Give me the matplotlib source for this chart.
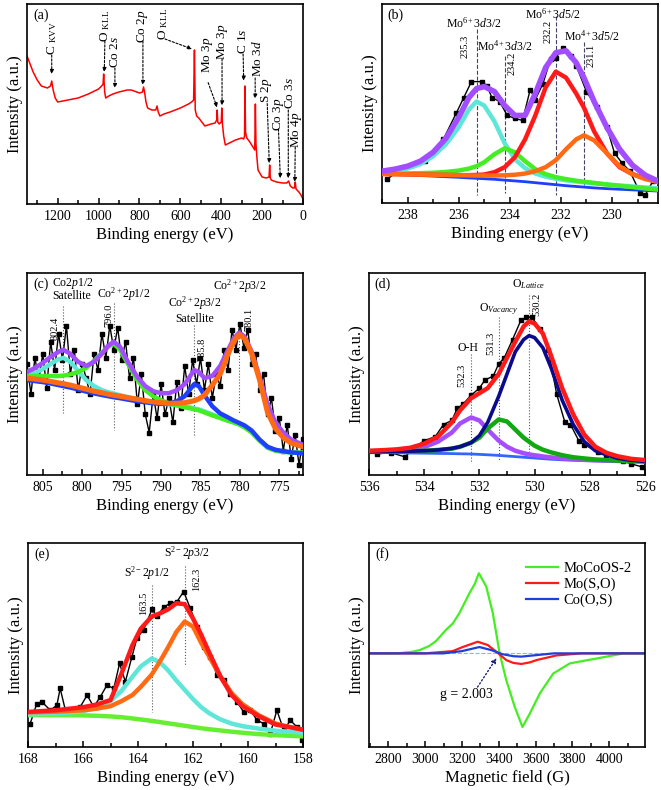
import matplotlib
matplotlib.use('Agg')
import matplotlib.pyplot as plt
from matplotlib.ticker import MultipleLocator

plt.rcParams['font.family'] = ['Liberation Serif', 'DejaVu Serif']
plt.rcParams['mathtext.fontset'] = 'custom'
plt.rcParams['mathtext.rm'] = 'Liberation Serif'
plt.rcParams['mathtext.it'] = 'Liberation Serif:italic'
plt.rcParams['axes.linewidth'] = 1.2

# ---------------- (a) survey ----------------
a_be = [1350, 1335, 1320, 1300, 1280, 1250, 1235, 1229, 1222, 1212, 1200, 1150, 1100, 1050,
        1000, 985, 978, 975, 970, 965, 950, 930, 900, 860, 840, 800, 785, 780, 775, 768, 760,
        740, 720, 714, 708, 700, 680, 650, 600, 560, 545, 535, 531, 527, 520, 510, 480, 450,
        430, 422, 420, 417, 410, 400, 397, 394, 388, 380, 360, 330, 300, 290, 286, 284, 281,
        275, 260, 245, 236, 233, 230, 226, 220, 200, 180, 166, 163, 160, 155, 130, 100, 80,
        70, 62, 50, 42, 38, 34, 20, 10, 0]
a_int = [74, 70, 66, 62, 59, 58, 59, 61.5, 57, 53, 51, 52, 53, 55,
         57.5, 59, 60, 65, 56, 53, 54, 55, 56, 57, 57, 55.5, 56, 58.5, 56, 51, 48,
         47, 47, 49, 46, 44, 45, 46, 48, 50, 51, 52, 77, 47, 44, 43, 39, 40,
         40.5, 42, 47, 41, 40, 41, 48, 40, 34, 29.5, 30.5, 32, 33, 32.5, 34, 59, 36,
         33, 31, 28.5, 27, 50, 30, 24, 17, 13.5, 13, 13.5, 19.5, 13, 12, 11, 10.5, 10.5,
         11.5, 9, 8, 8, 11, 7.5, 6, 4.5, 2.5]
# label, text pos (be, y), arrow start, arrow end
a_labels = [
    (r'C $_{\rm KVV}$', (1229, 83), (1229, 74.5), (1229, 65)),
    (r'O $_{\rm KLL}$', (969, 89), (969, 81.5), (972, 66)),
    (r'Co 2$s$', (920, 76), (920, 68), (920, 58)),
    (r'Co 2$p$', (783, 89), (783, 81.5), (783, 59.5)),
    (r'O $_{\rm KLL}$', (685, 90), (675, 82.5), (543, 77.5)),
    (r'Mo 3$p$', (469, 74.6), (464, 60.7), (420, 48.3)),
    (r'Mo 3$p$', (396, 81), (396, 72.6), (396, 49.3)),
    (r'C 1$s$', (293, 81.6), (293, 75), (290, 61.7)),
    (r'Mo 3$d$', (224, 73), (234, 63), (234, 52.7)),
    (r'S 2$p$', (178, 57), (175, 50.2), (165, 20.4)),
    (r'Co 3$p$', (122, 45), (120, 37.5), (111, 12.9)),
    (r'Co 3$s$', (62, 55.5), (72, 47), (72, 12.9)),
    (r'Mo 4$p$', (32, 37), (38, 28.5), (40, 11)),
]

# ---------------- (b) Mo 3d ----------------
b_be = [239, 238.5, 238, 237.5, 237, 236.5, 236, 235.6, 235.3, 235, 234.6, 234.2, 233.8,
        233.4, 233, 232.6, 232.2, 231.8, 231.4, 231.1, 230.7, 230.2, 229.7, 229.2, 228.7, 228.2]
b_bg = [14.5, 14.3, 14.1, 13.8, 13.5, 13.2, 12.9, 12.6, 12.4, 12.2, 11.9, 11.5, 11.1,
        10.7, 10.2, 9.7, 9.2, 8.7, 8.3, 8.0, 7.6, 7.2, 6.9, 6.6, 6.3, 6.0]
b_mo6_32 = [15.5, 16.2, 17.3, 19.5, 23.5, 29.5, 38, 47, 51, 49, 41, 30, 22,
            17.5, 14.8, 13.2, 12.2, 11.4, 10.8, 10.4, 9.9, 9.3, 8.8, 8.3, 7.8, 7.4]
b_mo4_32 = [14.8, 14.8, 14.9, 15, 15.2, 15.6, 16.3, 17.3, 18.5, 20.5, 24.5, 27.5, 25.5,
            21, 17, 14.5, 13, 12, 11.2, 10.7, 10.1, 9.3, 8.6, 8, 7.3, 6.7]
b_mo6_52 = [14.6, 14.5, 14.4, 14.3, 14.2, 14.1, 14, 14, 14.1, 14.3, 15.5, 18, 23,
            32, 44, 58, 66, 63, 55, 48, 36, 25, 18, 14.5, 12.5, 11]
b_mo4_52 = [14.6, 14.5, 14.4, 14.3, 14.2, 14.1, 14, 13.9, 13.8, 13.8, 13.8, 13.9, 14.2,
            14.8, 16, 18, 21.5, 27, 32, 34, 31.5, 25, 18.5, 14.5, 12, 10.5]
b_env = [16, 17, 18.5, 21, 25.5, 32.5, 43, 53, 57.5, 58.5, 56, 49, 44,
         44, 55, 68, 75.5, 76.5, 70.5, 63, 51, 38, 27, 19, 14, 11]
b_raw_be = [238.8, 238.1, 237.3, 236.6, 236.1, 235.8, 235.5, 235.1, 234.9, 234.7, 234.4, 234.1,
            233.8, 233.5, 233.2, 233.0, 232.7, 232.4, 232.2, 231.9, 231.6, 231.4, 231.0, 230.6,
            230.2, 229.9, 229.6, 229.3, 228.9, 228.7, 228.4]
b_raw = [12, 18.3, 21, 32, 45, 53, 61, 61, 59, 53, 51, 44,
         42.5, 41.5, 57, 52, 60, 72.5, 73, 78, 74, 69, 56, 48,
         38, 25, 20, 16, 5, 4, 11]
b_lines = [(235.3, 87.5, 4), (234.2, 74, 5), (232.2, 94, 4), (231.1, 81, 9)]
b_nums = [('235.3', 235.76, 78.5), ('234.2', 233.93, 70), ('232.2', 232.5, 86), ('231.1', 230.8, 74)]
b_names = [(r'Mo$^{6+}$3$d$3/2', 235.4, 90.5), (r'Mo$^{4+}$3$d$3/2', 234.2, 78.7),
           (r'Mo$^{6+}$3$d$5/2', 232.3, 94.7), (r'Mo$^{4+}$3$d$5/2', 230.8, 84)]

# ---------------- (c) Co 2p ----------------
c_be = [807, 806, 805, 804, 803, 802.4, 801.5, 800.5, 799.5, 798.5, 797.5, 796.7, 796, 795.2,
        794.2, 793, 792, 791, 790, 789, 788, 787, 786.3, 785.8, 785.2, 784.5, 783.5, 782.5,
        781.5, 780.8, 780.1, 779.4, 778.5, 777.5, 776.5, 775.5, 774.5, 773.5, 772]
c_orange = [48, 47.5, 47, 46.3, 45.6, 45.2, 44.5, 43.5, 42.5, 41.5, 40.7, 40, 39.5, 39,
            38.3, 37.5, 36.8, 36.2, 35.8, 35.5, 35.5, 35.8, 36.3, 36.8, 37.7, 39.5, 44.5, 50,
            60, 66, 69.5, 67.5, 60, 47, 31, 23, 18.5, 15.8, 14]
c_blue = [47, 46.5, 46, 45.3, 44.5, 44, 43.3, 42.3, 41.3, 40.4, 39.6, 39, 38.5, 38,
          37.3, 36.5, 36, 35.5, 35.2, 35.5, 36.5, 39, 42.5, 45, 44, 39.5, 34, 30.5,
          28.5, 27, 25.8, 24.5, 22, 17.5, 14, 12.5, 11.8, 11.2, 10.7]
c_green = [49, 49, 49, 49, 49, 49.2, 49.8, 51, 53, 56.5, 60.5, 63.5, 65, 62,
           55, 47, 42, 39, 37, 35.5, 34.5, 33.5, 33, 32.5, 32, 31, 29.5, 28.2,
           26.8, 26, 25, 23.5, 21, 17, 13.5, 12, 11.5, 11.2, 11]
c_cyan = [49.5, 50.5, 52.5, 55, 57.3, 58, 56, 51.5, 47, 44, 42, 41, 40.3, 39.5,
          38.5, 37.5, 36.8, 36, 35.5, 35, 34.5, 34, 33.5, 33, 32.5, 31.5, 30, 28.5,
          27, 26.2, 25.2, 23.8, 21.2, 17.2, 13.8, 12.2, 11.6, 11.2, 11]
c_env = [51, 53, 55.5, 58.5, 61, 62, 60, 56, 54, 56, 60, 64, 66, 63.5,
         56, 48.5, 44, 41.5, 40.5, 40.5, 42, 45, 49, 52, 51, 48, 49, 54,
         62, 67.5, 70.5, 68.5, 61, 48.5, 35, 26, 21, 17.5, 15]
c_raw_be = [807, 806.5, 806, 805.5, 805, 804.5, 804, 803.5, 803, 802.5, 802, 801.5, 801, 800.5,
            800, 799.5, 799, 798.5, 798, 797.5, 797, 796.5, 796, 795.5, 795, 794.5, 794, 793.5,
            793, 792.5, 792, 791.5, 791, 790.5, 790, 789.5, 789, 788.5, 788, 787.5, 787, 786.5,
            786, 785.5, 785, 784.5, 784, 783.5, 783, 782.5, 782, 781.5, 781, 780.5, 780, 779.5,
            779, 778.5, 778, 777.5, 777, 776.5, 776, 775.5, 775, 774.5, 774, 773.5, 773, 772.5, 772]
c_raw = [55, 40, 58, 47, 60, 43, 66, 52, 70, 57, 74, 50, 62, 42,
         55, 48, 40, 60, 52, 70, 58, 74, 62, 73, 57, 66, 48, 58,
         35, 50, 30, 21, 40, 28, 45, 30, 38, 26, 46, 33, 54, 40,
         57, 45, 58, 42, 55, 38, 50, 44, 62, 52, 72, 62, 75, 63,
         72, 55, 60, 42, 50, 30, 38, 22, 28, 12, 25, 8, 20, 5, 18]
c_lines = [(802.4, 83.5, 30.6), (796.0, 85, 22.3), (785.8, 74.4, 19), (780.1, 75.2, 30.6)]
c_nums = [('802.4', 803.4, 72.7), ('796.0', 796.6, 79.3), ('785.8', 784.8, 62.3), ('780.1', 778.9, 77.2)]
c_names = [(r'Co2$p$1/2', 801.2, 95), ('Satellite', 801.3, 88.4),
           (r'Co$^{2+}$2$p$1/2', 794.7, 89.3), (r'Co$^{2+}$2$p$3/2', 785.8, 85),
           ('Satellite', 785.8, 77.2), (r'Co$^{2+}$2$p$3/2', 780.0, 93.7)]

# ---------------- (d) O 1s ----------------
d_be = [536, 535.5, 535, 534.5, 534, 533.5, 533, 532.7, 532.3, 532, 531.7, 531.3, 531, 530.7,
        530.4, 530.2, 530, 529.7, 529.4, 529, 528.6, 528.2, 527.8, 527.4, 527, 526.5, 526]
d_bg = [11.2, 11.1, 11, 10.9, 10.8, 10.7, 10.6, 10.5, 10.4, 10.2, 10, 9.7, 9.4, 9.1,
        8.8, 8.6, 8.4, 8.1, 7.8, 7.5, 7.3, 7.1, 7, 6.9, 6.8, 6.7, 6.6]
d_lat = [11.5, 11.6, 11.7, 11.8, 12, 12.4, 13.2, 14, 16, 19.5, 26, 39, 50, 61,
         67, 69, 68, 63, 53, 37, 25, 16.5, 12, 10, 8.3, 7.3, 6.7]
d_vac = [11.4, 11.5, 11.6, 11.8, 12, 12.4, 13, 14, 16, 18.5, 23, 27.5, 26.5, 22.5,
         18.5, 16.5, 14.5, 12.5, 11.2, 9.8, 8.8, 8.2, 7.7, 7.4, 7.1, 6.9, 6.7]
d_oh = [11.5, 11.7, 12, 12.6, 13.8, 16.5, 21, 25.5, 28.5, 27, 22.5, 17, 14, 12,
        10.8, 10.2, 9.8, 9.2, 8.7, 8.2, 7.8, 7.5, 7.3, 7.1, 7, 6.8, 6.7]
d_env = [12, 12.3, 12.7, 13.5, 15.5, 19, 26, 32, 38, 40.5, 43, 50, 58, 66,
         73.5, 76, 75, 70, 59, 43, 30, 20, 14, 11, 9.3, 8, 7.4]
d_raw_be = [535.7, 535.2, 534.7, 534.3, 534.0, 533.6, 533.3, 533.0, 532.8, 532.6, 532.3, 532.0,
            531.8, 531.5, 531.3, 531.1, 530.8, 530.5, 530.3, 530.1, 529.8, 529.5, 529.2, 528.9,
            528.7, 528.4, 528.2, 527.7, 527.4, 527.1, 526.8, 526.5, 526.1]
d_raw = [10.5, 11, 9, 14, 17, 19, 25, 27, 33, 35, 39.5, 43,
         47, 49, 55, 58, 67, 76.5, 78, 78, 72.5, 62, 40, 26,
         25, 17, 15, 11.5, 10, 9, 7, 5.5, 4]
d_lines = [(532.3, 60, 5.8), (531.3, 78, 7.4), (530.2, 89, 7.4)]
d_nums = [('532.3', 532.65, 49.4), ('531.3', 531.58, 65.4), ('530.2', 529.93, 84.5)]
d_names = [('O-H', 532.4, 63), (r'O$_{\it Vacancy}$', 531.3, 81.9), (r'O$_{\it Lattice}$', 530.2, 94.5)]

# ---------------- (e) S 2p ----------------
e_be = [168, 167, 166, 165.5, 165, 164.6, 164.2, 163.9, 163.5, 163.2, 162.9, 162.6, 162.3,
        162, 161.7, 161.4, 161, 160.6, 160.2, 159.6, 159, 158.5, 158]
e_bg = [15.6, 15.6, 15.5, 15.3, 15, 14.6, 14, 13.5, 12.8, 12.2, 11.6, 11, 10.4,
        9.8, 9.2, 8.7, 8.1, 7.5, 7, 6.3, 5.8, 5.5, 5.2]
e_p12 = [16, 16.4, 17.5, 19.2, 22.5, 27.5, 34.5, 39.5, 43.4, 41.5, 37.5, 32.5, 28,
         23.5, 19.5, 16.5, 13.5, 11.5, 10.2, 9, 8, 7.5, 7]
e_p32 = [17, 17.3, 18, 18.8, 20, 22.5, 25.5, 29.5, 35.5, 42, 49, 56.5, 61.5,
         59, 51, 44, 34.5, 26.5, 21, 15.5, 11.5, 9.8, 8.5]
e_env = [17.2, 18, 19.5, 20.8, 23, 36, 50, 58, 64, 65.5, 67.5, 70.5, 70,
         63, 55, 46, 34.5, 25.5, 20, 15, 11, 9.8, 8.5]
e_raw_be = [167.92, 167.68, 167.49, 167.19, 166.95, 166.83, 166.64, 166.34, 166.1, 165.85,
            165.61, 165.37, 165.13, 164.88, 164.67, 164.46, 164.22, 164.04, 163.8, 163.49,
            163.31, 163.07, 162.82, 162.58, 162.34, 162.1, 161.85, 161.61, 161.37, 161.13,
            160.88, 160.64, 160.4, 160.16, 159.91, 159.67, 159.43, 159.19, 158.95, 158.7,
            158.46, 158.22, 158.04]
e_raw = [11.5, 21.3, 22.1, 18, 20.5, 28.7, 18, 17.2, 19.7, 25.4,
         19.7, 24.6, 30.3, 28.7, 41, 32, 44.3, 53.3, 57.4, 67.5,
         64, 68.5, 70.5, 71.3, 76.2, 68, 59, 49.2, 44.3, 35.2,
         32.8, 26.2, 22.1, 17.2, 18, 13.1, 11.5, 6.6, 18, 8.2,
         13.1, 9.8, 3.3]
e_lines = [(163.5, 79.5, 17.2), (162.3, 88.5, 40.2)]
e_nums = [('163.5', 163.8, 70.5), ('162.3', 161.85, 82)]
e_names = [(r'S$^{2-}$2$p$1/2', 163.68, 85.2), (r'S$^{2-}$2$p$3/2', 162.22, 95)]

# ---------------- (f) EPR ----------------
f_green_b = [2695, 2850, 2931, 2970, 3022, 3060, 3113, 3150, 3186, 3241, 3270, 3292, 3332, 3368,
             3405, 3441, 3487, 3529, 3569, 3623, 3696, 3787, 3933, 4079, 4195]
f_green = [45.9, 45.9, 46.7, 47.5, 49.5, 52, 57.4, 60.5, 65.6, 75.4, 80, 85.2, 78.7, 65.6,
           45.9, 32.8, 19.7, 9.8, 16.4, 26.2, 36, 41, 43.4, 45.9, 45.9]
f_red_b = [2695, 3000, 3150, 3204, 3286, 3340, 3387, 3441, 3480, 3523, 3570, 3605, 3714, 3850, 4195]
f_red = [45.9, 45.9, 47, 49, 51.6, 50, 46.7, 42.6, 41.2, 40.7, 41.5, 42.6, 44.9, 45.9, 45.9]
f_blue_b = [2695, 3100, 3200, 3295, 3360, 3420, 3480, 3523, 3600, 3700, 4195]
f_blue = [45.9, 45.9, 47, 49, 47.5, 45.5, 44.5, 44.3, 45, 45.9, 45.9]
f_names = ['MoCoOS-2', 'Mo(S,O)', 'Co(O,S)']

W, H = 661, 790
fig = plt.figure(figsize=(W / 100, H / 100), dpi=100)


def make_ax(l, t, r, b, xlim, major, minor, tag, xlabel='Binding energy (eV)'):
    ax = fig.add_axes([l / W, 1 - b / H, (r - l) / W, (b - t) / H])
    ax.set_xlim(*xlim)
    ax.set_ylim(0, 100)
    ax.xaxis.set_major_locator(MultipleLocator(major))
    ax.xaxis.set_minor_locator(MultipleLocator(minor))
    ax.tick_params(axis='x', which='both', direction='in', top=False, labelsize=10, pad=4)
    ax.tick_params(axis='x', which='major', length=4, width=1.1)
    ax.tick_params(axis='x', which='minor', length=3, width=1.1)
    ax.tick_params(axis='y', left=False, right=False, labelleft=False)
    ax.set_xlabel(xlabel, fontsize=12, labelpad=3)
    ax.set_ylabel('Intensity (a.u.)', fontsize=12, labelpad=3)
    ax.text(0.05, 0.945, tag, transform=ax.transAxes, fontsize=10, ha='center', va='center')
    return ax


def add_marks(ax, lines, nums, names, ls, lc):
    for x, y0, y1 in lines:
        ax.plot([x, x], [y0, y1], ls=ls, color=lc, lw=0.8, zorder=1)
    for s, x, y in nums:
        ax.text(x, y, s, rotation=90, fontsize=7.5, ha='center', va='center')
    for s, x, y in names:
        ax.text(x, y, s, fontsize=8.5, ha='center', va='center')


def raw(ax, x, y):
    ax.plot(x, y, color='black', lw=1, marker='s', ms=3.5, zorder=2)


fit_lw = 3.2

# (a)
ax = make_ax(27, 4, 303, 204, (1350, 0), 200, 100, '(a)')
ax.plot(a_be, a_int, color='#ff0000', lw=1.1)
for s, tp, st, en in a_labels:
    ax.text(tp[0], tp[1], s, rotation=90, fontsize=9.5, ha='center', va='center')
    ax.annotate('', xy=en, xytext=st,
                arrowprops=dict(arrowstyle='-|>', ls=(0, (2, 1.5)), lw=0.8, color='black',
                                mutation_scale=6, shrinkA=0, shrinkB=0))

# (b)
ax = make_ax(382, 4, 658, 203, (239, 228.2), 2, 1, '(b)')
raw(ax, b_raw_be, b_raw)
ax.plot(b_be, b_bg, color='#1f3fff', lw=2, zorder=3)
ax.plot(b_be, b_mo6_32, color='#5ee6d8', lw=fit_lw, zorder=3)
ax.plot(b_be, b_mo4_32, color='#44ee22', lw=fit_lw, zorder=3)
ax.plot(b_be, b_mo6_52, color='#ff1a1a', lw=fit_lw, zorder=3)
ax.plot(b_be, b_mo4_52, color='#ff6a13', lw=fit_lw, zorder=3)
ax.plot(b_be, b_env, color='#a24dff', lw=4, zorder=4)
add_marks(ax, b_lines, b_nums, b_names, '--', '#444466')

# (c)
ax = make_ax(27, 273, 303, 475, (807, 772), 5, 2.5, '(c)')
raw(ax, c_raw_be, c_raw)
ax.plot(c_be, c_cyan, color='#5ee6d8', lw=fit_lw, zorder=3)
ax.plot(c_be, c_green, color='#44ee22', lw=fit_lw, zorder=3)
ax.plot(c_be, c_blue, color='#1f3fff', lw=fit_lw, zorder=3)
ax.plot(c_be, c_env, color='#a24dff', lw=fit_lw, zorder=3)
ax.plot(c_be, c_orange, color='#ff6a13', lw=fit_lw + 0.5, zorder=4)
add_marks(ax, c_lines, c_nums, c_names, ':', '#555555')

# (d)
ax = make_ax(369, 273, 645, 475, (536, 526), 2, 1, '(d)')
raw(ax, d_raw_be, d_raw)
ax.plot(d_be, d_bg, color='#3366ff', lw=2, zorder=3)
ax.plot(d_be, d_oh, color='#a64dff', lw=fit_lw, zorder=3)
ax.plot(d_be, d_vac, color='#11a811', lw=fit_lw, zorder=3)
ax.plot(d_be, d_lat, color='#0a0a8c', lw=fit_lw - 0.6, zorder=3)
ax.plot(d_be, d_env, color='#ff1a1a', lw=fit_lw, zorder=4)
add_marks(ax, d_lines, d_nums, d_names, ':', '#445588')

# (e)
ax = make_ax(28, 543, 303, 747, (168, 158), 2, 1, '(e)')
raw(ax, e_raw_be, e_raw)
ax.plot(e_be, e_bg, color='#66ee33', lw=fit_lw, zorder=3)
ax.plot(e_be, e_p12, color='#5ee6d8', lw=fit_lw, zorder=3)
ax.plot(e_be, e_p32, color='#ff6a13', lw=fit_lw, zorder=3)
ax.plot(e_be, e_env, color='#ff1a1a', lw=fit_lw, zorder=4)
add_marks(ax, e_lines, e_nums, e_names, ':', '#555555')

# (f)
ax = make_ax(369, 543, 645, 747, (2695, 4195), 200, 100, '(f)', xlabel='Magnetic field (G)')
ax.axhline(45.9, color='#66cccc', ls='--', lw=0.8, zorder=1)
ax.plot(f_green_b, f_green, color='#44ee22', lw=1.6, label=f_names[0])
ax.plot(f_red_b, f_red, color='#ff1a1a', lw=1.6, label=f_names[1])
ax.plot(f_blue_b, f_blue, color='#1f3fdd', lw=1.6, label=f_names[2])
ax.legend(loc='upper right', bbox_to_anchor=(1.0, 0.97), frameon=False, fontsize=10.5,
          handlelength=2.2, labelspacing=0.15, handletextpad=0.4)
ax.text(3225, 25.5, 'g = 2.003', fontsize=10, ha='center', va='center')
ax.annotate('', xy=(3388, 43.6), xytext=(3285, 29.4),
            arrowprops=dict(arrowstyle='-|>', ls=':', lw=1, color='#1a237e',
                            mutation_scale=7, shrinkA=0, shrinkB=0))

fig.savefig('out.png', dpi=100)
